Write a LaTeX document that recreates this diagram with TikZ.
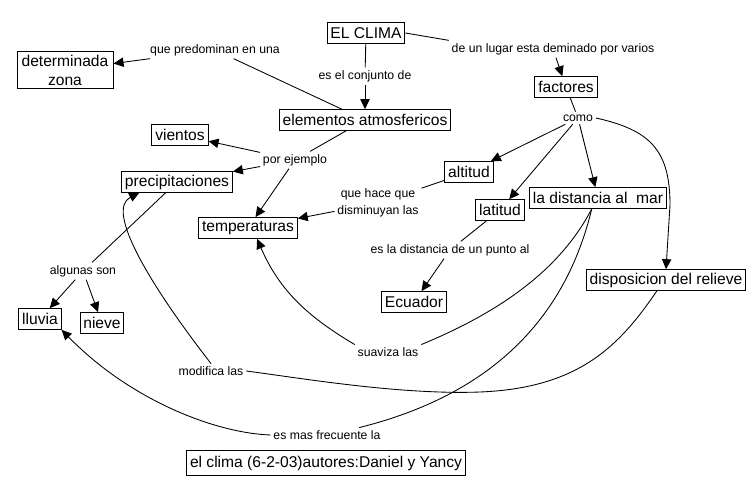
\documentclass[tikz,border=0pt]{standalone}
\usepackage{fontspec}
\setmainfont{Liberation Sans}
\usetikzlibrary{arrows.meta}
\begin{document}
\begin{tikzpicture}[x=0.75pt,y=-0.75pt,
  concept/.style={draw, line width=0.75pt, font=\fontsize{11.7}{14.2}\selectfont, inner xsep=2.5pt, inner ysep=1pt, minimum height=15.5pt},
  lab/.style={font=\fontsize{9.2}{13}\selectfont, inner sep=2pt},
  con/.style={line width=0.65pt},
  arr/.style={con, -{Triangle[length=7.5pt,width=7pt]}}]
\useasboundingbox[fill=white] (0,0) rectangle (756,496);
% concepts
\node[concept] (clima) at (366,33) {EL CLIMA};
\node[concept, align=center, inner ysep=2.5pt, minimum width=72pt] (zona) at (65,70) {determinada\\zona};
\node[concept] (fact) at (566,87) {factores};
\node[concept] (elem) at (365,120) {elementos atmosfericos};
\node[concept] (vien) at (180,135) {vientos};
\node[concept] (prec) at (177,182) {precipitaciones};
\node[concept] (temp) at (248,228) {temperaturas};
\node[concept] (alt) at (469,172) {altitud};
\node[concept] (lat) at (500,210) {latitud};
\node[concept] (dist) at (598,198) {la distancia al~ mar};
\node[concept] (ecu) at (414,302) {Ecuador};
\node[concept] (disp) at (666,280) {disposicion del relieve};
\node[concept] (lluv) at (40,319) {lluvia};
\node[concept] (niev) at (102,323) {nieve};
\node[concept, minimum height=19pt] (title) at (326,463) {el clima (6-2-03)autores:Daniel y Yancy};
% linking phrases
\node[lab] (l1) at (215,50) {que predominan en una};
\node[lab] (l2) at (365,76) {es el conjunto de};
\node[lab] (l3) at (553,49) {de un lugar esta deminado por varios};
\node[lab] (l4) at (578,118) {como};
\node[lab] (l5) at (295,160) {por ejemplo};
\node[lab, align=center] (l6) at (378,203) {que hace que\\disminuyan las};
\node[lab] (l7) at (450,250) {es la distancia de un punto al};
\node[lab] (l8) at (83,271) {algunas son};
\node[lab] (l9) at (388,352) {suaviza las};
\node[lab] (l10) at (211,371) {modifica las};
\node[lab] (l11) at (327,435) {es mas frecuente la};
% connectors
\draw[con] (clima) -- (l2);
\draw[arr] (l2) -- (elem);
\draw[con] (clima.east) -- (l3.north west);
\draw[arr] (l3) -- (fact);
\draw[con] (elem) -- (l1);
\draw[arr] (l1) -- (zona);
\draw[con] (elem) -- (l5);
\draw[arr] (l5) -- (vien);
\draw[arr] (l5) -- (prec);
\draw[arr] (l5) -- (temp);
\draw[con] (fact) -- (l4);
\draw[arr] (l4) -- (alt);
\draw[arr] (l4) -- (lat);
\draw[arr] (l4) -- (dist);
\draw[arr] (l4.east) .. controls (650,130) and (670,150) .. (670,205) -- (disp.north);
\draw[con] (alt) -- (l6);
\draw[arr] (l6) -- (temp);
\draw[con] (lat) -- (l7);
\draw[arr] (l7) -- (ecu);
\draw[con] (prec) -- (l8);
\draw[arr] (l8) -- (lluv);
\draw[arr] (l8) -- (niev);
\draw[con] (dist.-120) .. controls (560,270) and (500,312) .. (l9.north east);
\draw[arr] (l9.north west) .. controls (310,318) and (280,292) .. (temp.-50);
\draw[con] (dist.-120) .. controls (565,320) and (490,395) .. (l11.13);
\draw[arr] (l11.west) .. controls (215,433) and (130,400) .. (lluv.south east);
\draw[con] (disp.-130) .. controls (620,345) and (580,388) .. (480,392) .. controls (400,395) and (300,378) .. (l10.east);
\draw[arr] (l10.north) .. controls (150,285) and (105,210) .. (prec.-164);
\end{tikzpicture}
\end{document}
